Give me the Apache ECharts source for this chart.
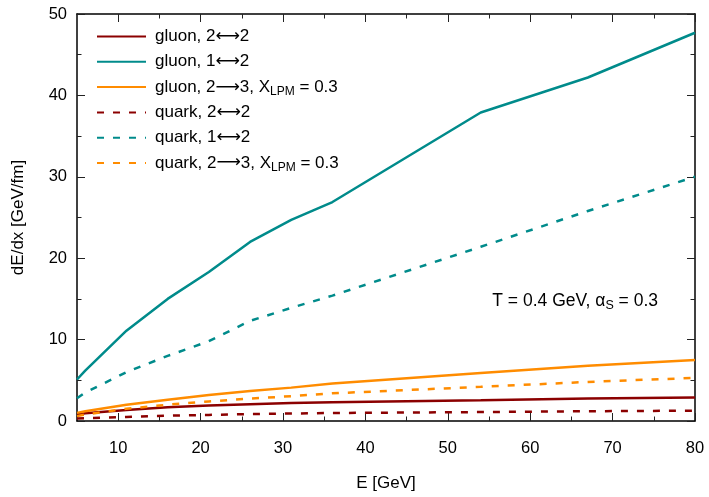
<!DOCTYPE html>
<html lang="en">
<head>
    <meta charset="UTF-8">
    <title>dE/dx vs E</title>
    <script src="https://cdn.jsdelivr.net/npm/echarts@6/dist/echarts.min.js"></script>
</head>
<body style="margin:0">
<div id="main" style="width: 709px;height: 497px"></div>
</body>

<script>
    var energy = [5, 6, 11, 16, 21, 26, 31, 36, 54, 67, 80];

    var gluon22 = [0.8, 0.95, 1.35, 1.7, 1.9, 2.05, 2.2, 2.3, 2.55, 2.75, 2.9];
    var gluon12 = [5.1, 6.2, 11.1, 15.0, 18.3, 22.0, 24.7, 26.9, 37.9, 42.2, 47.7];
    var gluon23 = [1.0, 1.2, 2.0, 2.6, 3.2, 3.7, 4.1, 4.6, 5.9, 6.8, 7.5];
    var quark22 = [0.3, 0.35, 0.5, 0.65, 0.75, 0.85, 0.92, 0.98, 1.1, 1.2, 1.27];
    var quark12 = [2.8, 3.5, 6.0, 8.0, 9.8, 12.3, 13.9, 15.4, 21.4, 25.8, 30.0];
    var quark23 = [0.6, 0.8, 1.5, 2.0, 2.4, 2.75, 3.05, 3.4, 4.2, 4.8, 5.3];

    var names = ['gluon, 2↔2', 'gluon, 1↔2', 'gluon, 2→3, XLPM = 0.3',
        'quark, 2↔2', 'quark, 1↔2', 'quark, 2→3, XLPM = 0.3'];
    var values = [gluon22, gluon12, gluon23, quark22, quark12, quark23];
    var colors = ['#8b0000', '#008b8b', '#ff8c00', '#8b0000', '#008b8b', '#ff8c00'];

    var xMajor = [10, 20, 30, 40, 50, 60, 70, 80];
    var xMinor = [15, 25, 35, 45, 55, 65, 75];

    var font = 'Liberation Sans, DejaVu Sans, sans-serif';

    var myChart = echarts.init(document.getElementById('main'));

    function pairs(ys) {
        var out = [];
        for (var i = 0; i < energy.length; i++) {
            out.push([energy[i], ys[i]]);
        }
        return out;
    }

    var series = [];
    for (var k = 0; k < names.length; k++) {
        series.push({
            name: names[k],
            type: 'line',
            symbol: 'none',
            data: pairs(values[k]),
            lineStyle: {
                color: colors[k],
                width: 2.5,
                type: k < 3 ? 'solid' : [7, 9]
            },
            itemStyle: {color: colors[k]},
            z: 2
        });
    }

    // x axes: major ticks with labels, minor ticks overlaid, top mirror
    function xAx(pos, ticks, len, labels, line) {
        return {
            type: 'value', position: pos, min: 5, max: 80, interval: 5,
            axisLine: {show: line, onZero: false, lineStyle: {color: '#000', width: 1.5}},
            axisTick: {show: true, inside: true, length: len, customValues: ticks,
                lineStyle: {color: '#222', width: 1}},
            axisLabel: labels ? {
                show: true, customValues: xMajor, margin: 19,
                color: '#000', fontSize: 16.5, fontFamily: font
            } : {show: false},
            splitLine: {show: false}
        };
    }

    function yAx(pos, labels) {
        return {
            type: 'value', position: pos, min: 0, max: 50, interval: 10,
            axisLine: {show: true, onZero: false, lineStyle: {color: '#000', width: 1.5}},
            axisTick: {show: true, inside: true, length: 8, lineStyle: {color: '#222', width: 1}},
            minorTick: {show: true, splitNumber: 2, length: 4.5, lineStyle: {color: '#222', width: 1}},
            axisLabel: labels ? {show: true, margin: 10, color: '#000', fontSize: 16.5, fontFamily: font} : {show: false},
            splitLine: {show: false},
            minorSplitLine: {show: false}
        };
    }

    var xAxes = [xAx('bottom', xMajor, 8, true, true), xAx('bottom', xMinor, 4.5, false, false),
        xAx('top', xMajor, 8, false, true), xAx('top', xMinor, 4.5, false, false)];
    xAxes[0].name = 'E [GeV]';
    xAxes[0].nameLocation = 'middle';
    xAxes[0].nameGap = 54;
    xAxes[0].nameTextStyle = {color: '#000', fontSize: 17, fontFamily: font};

    var yAxes = [yAx('left', true), yAx('right', false)];
    yAxes[0].name = 'dE/dx [GeV/fm]';
    yAxes[0].nameLocation = 'middle';
    yAxes[0].nameGap = 50;
    yAxes[0].nameTextStyle = {color: '#000', fontSize: 17, fontFamily: font};

    var arrowRich = {fontSize: 17, fontFamily: 'DejaVu Sans', color: '#000', lineHeight: 22};
    var subRich = {fontSize: 12, fontFamily: font, color: '#000', lineHeight: 12, verticalAlign: 'bottom'};

    var option = {
        animation: false,
        grid: {left: 77, right: 14, top: 14, bottom: 74, containLabel: false},
        legend: {
            orient: 'vertical',
            left: 96,
            top: 25.5,
            padding: 0,
            itemWidth: 49,
            itemHeight: 14,
            itemGap: 3.3,
            selectedMode: false,
            itemStyle: {opacity: 0},
            data: names,
            formatter: function (name) {
                return name.replace('XLPM', 'X{s|LPM}')
                    .replace('↔', '{a|⟷}').replace('→', '{a|⟶}');
            },
            textStyle: {
                color: '#000', fontSize: 17, fontFamily: font, lineHeight: 22,
                padding: [0, 0, 0, 4],
                rich: {s: subRich, a: arrowRich}
            }
        },
        graphic: [{
            type: 'text',
            right: 709 - 658,
            top: 290,
            style: {
                text: 'T = 0.4 GeV, α{s|S} = 0.3',
                fill: '#000',
                fontSize: 17.5,
                fontFamily: font,
                lineHeight: 22,
                rich: {
                    s: {fontSize: 12.5, fontFamily: font, fill: '#000', lineHeight: 12, verticalAlign: 'bottom'}
                }
            }
        }],
        xAxis: xAxes,
        yAxis: yAxes,
        series: series
    };

    myChart.setOption(option);
</script>

</html>
